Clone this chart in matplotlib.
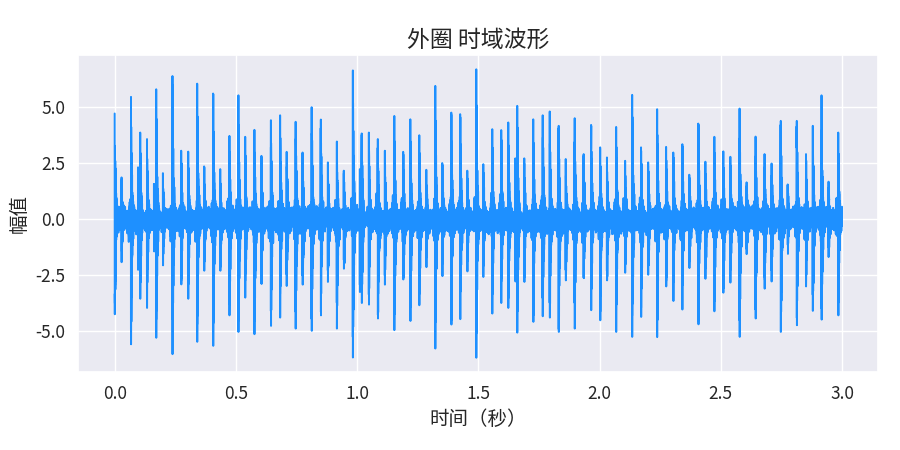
import numpy as np
import matplotlib
matplotlib.use("Agg")
import matplotlib.pyplot as plt
from matplotlib.ticker import MultipleLocator, FormatStrFormatter
import seaborn as sns

# ---- data ----
duration = 3.0          # seconds
fs = 20000              # sampling rate used for the rendering
impulse_t = [0.000, 0.028, 0.067, 0.096, 0.105, 0.133, 0.162, 0.171, 0.199, 0.238,
             0.274, 0.303, 0.340, 0.369, 0.406, 0.435, 0.473, 0.510, 0.538, 0.576,
             0.605, 0.644, 0.682, 0.709, 0.746, 0.775, 0.812, 0.850, 0.879, 0.916,
             0.945, 0.982, 1.011, 1.019, 1.048, 1.085, 1.114, 1.153, 1.190, 1.219,
             1.256, 1.285, 1.322, 1.351, 1.388, 1.425, 1.454, 1.491, 1.520, 1.557,
             1.594, 1.623, 1.652, 1.660, 1.689, 1.726, 1.765, 1.794, 1.831, 1.860,
             1.897, 1.934, 1.965, 2.002, 2.030, 2.068, 2.105, 2.134, 2.171, 2.200,
             2.237, 2.274, 2.304, 2.341, 2.370, 2.407, 2.436, 2.473, 2.510, 2.539,
             2.577, 2.606, 2.643, 2.680, 2.709, 2.747, 2.776, 2.813, 2.851, 2.879,
             2.915, 2.944, 2.984]
impulse_pos = [4.70, 1.85, 5.44, 2.30, 3.85, 3.56, 1.56, 5.78, 2.04, 6.37,
               3.04, 3.00, 6.03, 2.34, 5.59, 2.22, 3.70, 5.51, 3.66, 3.97,
               2.81, 4.40, 4.62, 2.99, 4.33, 2.96, 4.98, 4.43, 2.52, 3.45,
               2.15, 6.62, 2.22, 3.81, 3.85, 3.56, 3.04, 4.59, 2.99, 4.44,
               3.73, 2.19, 5.93, 2.49, 4.74, 4.67, 2.15, 6.67, 2.44, 4.00,
               3.96, 4.30, 2.70, 5.04, 2.70, 4.44, 4.62, 4.79, 4.15, 2.67,
               4.49, 2.89, 4.19, 3.19, 2.74, 4.10, 2.59, 5.53, 3.19, 2.52,
               4.89, 3.21, 2.96, 3.33, 1.97, 4.25, 2.55, 3.66, 3.01, 2.77,
               4.92, 1.63, 3.67, 2.89, 2.47, 4.37, 1.53, 4.37, 2.89, 4.15,
               5.51, 1.66, 3.85]
impulse_neg = [-4.25, -1.93, -5.59, -2.27, -3.56, -3.97, -1.45, -5.30, -2.07, -6.03,
               -2.92, -3.56, -5.48, -2.31, -5.66, -2.31, -4.30, -5.04, -3.51, -5.14,
               -2.90, -4.77, -4.40, -2.99, -4.89, -2.93, -4.99, -4.30, -2.81, -4.89,
               -2.22, -6.18, -3.26, -3.75, -3.82, -4.44, -2.93, -4.96, -2.70, -4.55,
               -3.85, -2.15, -5.78, -2.55, -4.71, -4.47, -2.34, -6.19, -2.59, -4.22,
               -3.75, -3.97, -2.79, -5.07, -2.81, -4.59, -4.34, -4.40, -5.04, -2.74,
               -4.89, -2.64, -4.07, -4.52, -2.74, -5.04, -2.40, -5.26, -4.37, -2.49,
               -5.27, -3.01, -3.66, -4.04, -2.19, -4.70, -2.67, -4.12, -3.29, -2.84,
               -5.26, -1.57, -4.44, -3.11, -2.79, -5.04, -1.56, -4.74, -3.01, -4.10,
               -4.49, -1.70, -4.30]
# background vibration components (frequency Hz, amplitude, phase)
bg_freq = [29.0, 163.0, 487.0, 1217.0, 2743.0, 3911.0, 5237.0]
bg_amp = [0.12, 0.20, 0.22, 0.25, 0.22, 0.19, 0.15]
bg_phase = [0.3, 1.1, 2.0, 0.7, 2.6, 1.5, 0.9]

title = "外圈 时域波形"
xlabel = "时间（秒）"
ylabel = "幅值"

# ---- build the waveform ----
t = np.arange(int(duration * fs) + 1) / fs
signal = np.zeros_like(t)
for f, a, p in zip(bg_freq, bg_amp, bg_phase):
    signal += a * np.sin(2 * np.pi * f * t + p)

f_res = 2500.0
tau = 0.0035
n_ring = int(0.03 * fs)
k = np.arange(n_ring)
ring = np.exp(-k / (fs * tau)) * np.cos(2 * np.pi * f_res * k / fs)
ring2 = 0.22 * np.exp(-k / (fs * 0.007)) * np.sin(2 * np.pi * 900.0 * k / fs)
for ti, ap, an in zip(impulse_t, impulse_pos, impulse_neg):
    i0 = int(round(ti * fs))
    i1 = min(i0 + n_ring, len(t))
    n = i1 - i0
    amp = 0.5 * (ap + abs(an))
    seg = amp * (ring[:n] + ring2[:n]) + 0.5 * signal[i0:i1]
    # scale so the spike reaches exactly the read peak values
    seg = np.where(seg > 0, seg * ap / seg.max(), seg * abs(an) / abs(seg.min()))
    signal[i0:i1] = seg

# ---- plot ----
sns.set_theme(style="darkgrid")
plt.rcParams["font.family"] = ["Noto Sans CJK SC", "DejaVu Sans"]
plt.rcParams["axes.unicode_minus"] = False

fig, ax = plt.subplots(figsize=(9, 4.5), dpi=100)
ax.plot(t, signal, color="#1E90FF", linewidth=1.4)
ax.set_title(title, fontsize=16.5)
ax.set_xlabel(xlabel, fontsize=14)
ax.set_ylabel(ylabel, fontsize=14)
ax.tick_params(labelsize=12.5)
ax.yaxis.set_major_locator(MultipleLocator(2.5))
ax.yaxis.set_major_formatter(FormatStrFormatter("%.1f"))
ax.xaxis.set_major_formatter(FormatStrFormatter("%.1f"))
fig.subplots_adjust(left=0.087, right=0.976, top=0.878, bottom=0.173)
fig.savefig("out.png", dpi=100)
